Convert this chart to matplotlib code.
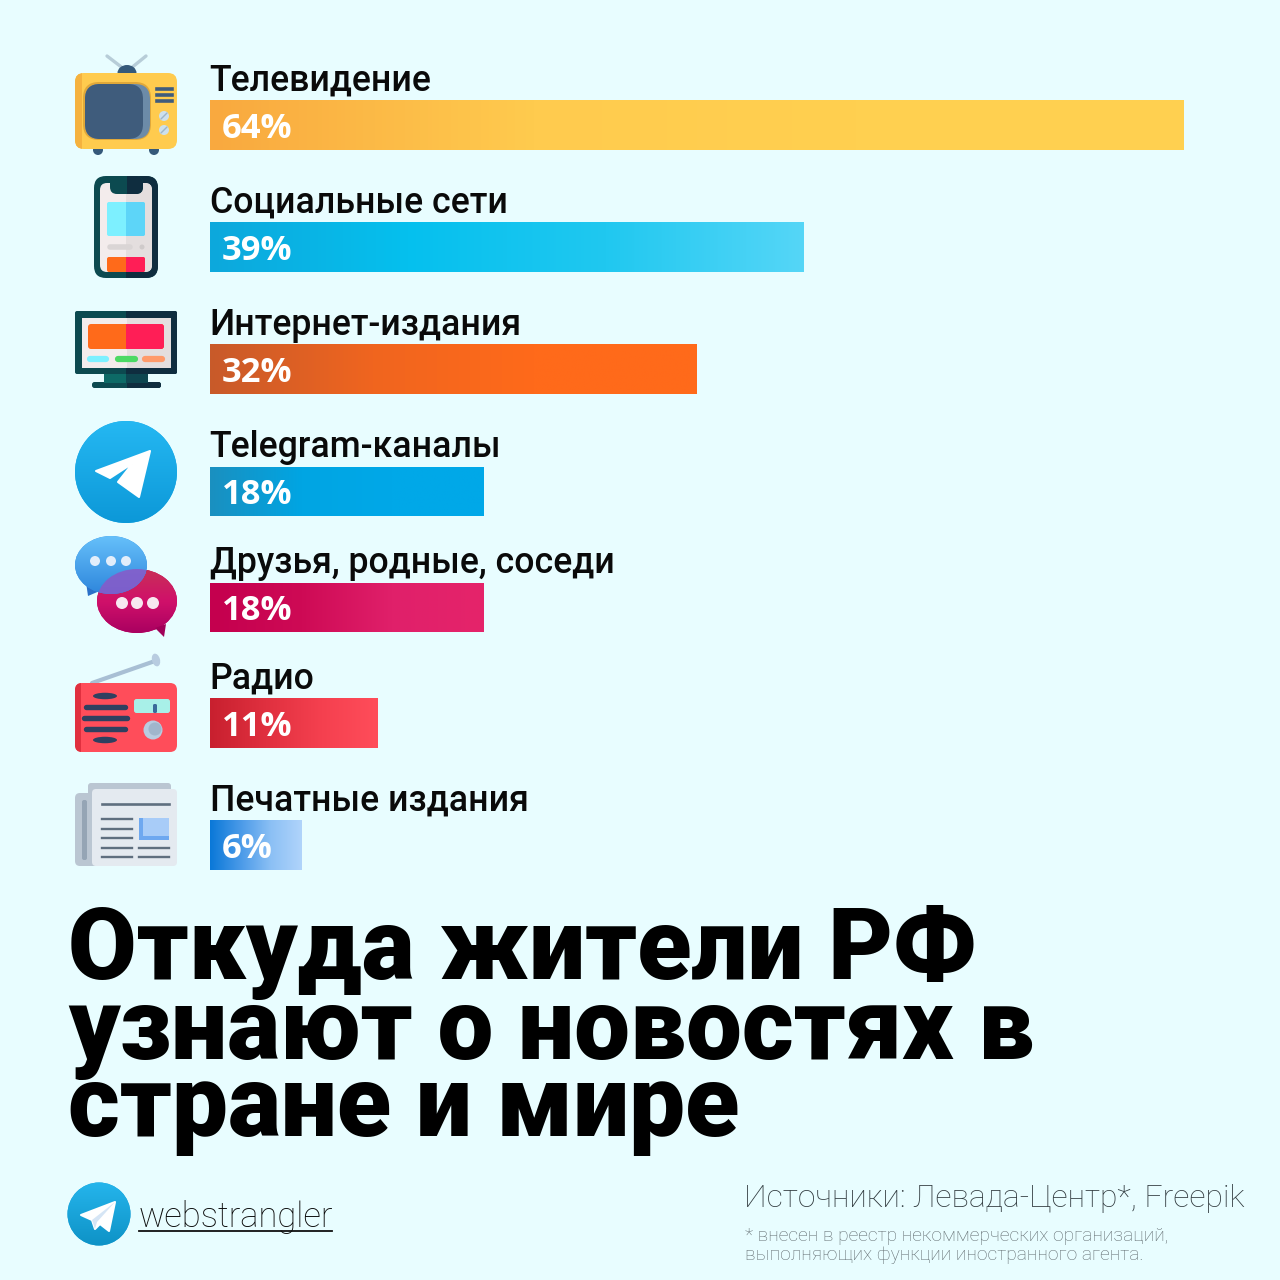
import numpy as np
import matplotlib
matplotlib.use("Agg")
import matplotlib.pyplot as plt
from matplotlib.colors import LinearSegmentedColormap
from matplotlib.patches import Circle, Ellipse, FancyBboxPatch, Polygon, Rectangle

categories = ["Телевидение", "Социальные сети", "Интернет-издания", "Telegram-каналы",
              "Друзья, родные, соседи", "Радио", "Печатные издания"]
values = [64, 39, 32, 18, 18, 11, 6]
title_lines = ["Откуда жители РФ", "узнают о новостях в", "стране и мире"]
source = "Источники: Левада-Центр*, Freepik"
note_lines = ["* внесен в реестр некоммерческих организаций,",
              "выполняющих функции иностранного агента."]
handle = "webstrangler"

# layout, in pixels of the 1280 px picture
row_centers = [125, 247, 369, 491.5, 607.5, 723, 845]
bar_height = 50
gradients = [["#F9A93F", "#FFCB4E", "#FFD050", "#FFD050"],
             ["#0DA8DC", "#05C0EE", "#20C8F0", "#55D6F7"],
             ["#C85A2A", "#F0651F", "#FF6A1A", "#FF6A1A"],
             ["#1A90C0", "#00A5E3", "#00A8E8", "#00A8E8"],
             ["#C4004E", "#CE0A55", "#E0206A", "#E5246A"],
             ["#C8202F", "#E0303F", "#F5404F", "#FF4D5A"],
             ["#0A78D8", "#4A9AE8", "#8CC0F5", "#B0D4FB"]]
BG = "#E8FDFF"
TEAL = "#0C4A50"
NAVY = "#0F2D3F"
SCREEN_L, SCREEN_R = "#F3ECEC", "#E4DEDE"
HOT_L, HOT_R = "#FF6A1A", "#FF1E56"

fig = plt.figure(figsize=(12.8, 12.8), dpi=100, facecolor=BG)
art = fig.add_axes([0, 0, 1, 1])
art.set_xlim(0, 1280)
art.set_ylim(1280, 0)
art.axis("off")


def ramp(ax, colors, extent, clip, vertical=False):
    cmap = LinearSegmentedColormap.from_list("g", colors)
    g = np.linspace(0, 1, 256)
    g = g.reshape(-1, 1) if vertical else g.reshape(1, -1)
    im = ax.imshow(g, cmap=cmap, extent=extent, aspect="auto", origin="upper", zorder=clip.get_zorder(),
                   interpolation="bilinear")
    im.set_clip_path(clip)
    return im


def box(x0, y0, x1, y1, color, r=0, z=2, clip=None):
    if r:
        p = FancyBboxPatch((x0 + r, y0 + r), x1 - x0 - 2 * r, y1 - y0 - 2 * r,
                           boxstyle=f"round,pad={r},rounding_size={r}", fc=color, ec="none", zorder=z)
    else:
        p = Rectangle((x0, y0), x1 - x0, y1 - y0, fc=color, ec="none", zorder=z)
    art.add_patch(p)
    if clip is not None:
        p.set_clip_path(clip)
    return p


def split_box(x0, y0, x1, y1, cl, cr, r=0, z=2):
    box(x0, y0, x1, y1, cl, r, z)
    half = Rectangle(((x0 + x1) / 2, y0), (x1 - x0) / 2, y1 - y0, transform=art.transData)
    box(x0, y0, x1, y1, cr, r, z + 0.1, clip=half)


def stroke(xs, ys, color, lw, z=4):
    art.plot(xs, ys, color=color, lw=lw, solid_capstyle="round", zorder=z)


def draw_tv():
    stroke([124, 107], [69, 56], "#B7CDD8", 2.4, 1)
    stroke([130, 146], [69, 56], "#B7CDD8", 2.4, 1)
    art.add_patch(Ellipse((127, 73), 19, 16, fc="#35597A", ec="none", zorder=1.5))
    for x in (98, 154):
        art.add_patch(Circle((x, 150), 5, fc="#35597A", ec="none", zorder=1.5))
    body = box(75, 73, 177, 149, "#FFCB4E", 9)
    box(75, 73, 82, 149, "#F5B23F", 0, 2.1, clip=body)
    box(83, 82, 151, 140, "#E0A83A", 16, 3)
    box(85, 84, 150, 139, "#6C8BA8", 15, 3.1)
    box(85, 84, 143, 139, "#3F5C7C", 15, 3.2)
    for y in (89, 95, 101):
        art.plot([157, 172], [y, y], color="#3F5C7C", lw=2.6, zorder=4)
    for y in (116, 130):
        art.add_patch(Circle((164, y), 5, fc="#CDE0EC", ec="none", zorder=4))
        stroke([161, 167], [y + 3, y - 3], "#9DB5C8", 1, 5)


def draw_phone():
    split_box(94, 176, 158, 278, TEAL, NAVY, 12)
    split_box(100, 183, 152, 272, SCREEN_L, SCREEN_R, 7, 3)
    split_box(110, 176, 143, 194, TEAL, NAVY, 7, 4)
    split_box(107, 202, 145, 236, "#7DF0FF", "#5DD5F8", 2, 5)
    art.plot([110, 130], [247, 247], color="#DAD5D5", lw=4, solid_capstyle="round", zorder=5)
    art.add_patch(Circle((142, 247), 2.5, fc="#CFCACA", ec="none", zorder=5))
    split_box(107, 257, 145, 272, HOT_L, HOT_R, 2, 5)


def draw_monitor():
    split_box(92, 382, 161, 388, TEAL, NAVY, 2.5, 2)
    split_box(104, 372, 148, 383, "#0D6A66", "#0E4650", 0, 2.5)
    split_box(75, 311, 177, 374, TEAL, NAVY, 2, 3)
    split_box(82, 318, 171, 368, SCREEN_L, SCREEN_R, 0, 3.5)
    split_box(88, 324, 164, 349, HOT_L, HOT_R, 3, 4)
    stroke([90, 106], [359, 359], "#7DF0FF", 4.5)
    stroke([118, 135], [359, 359], "#4CD964", 4.5)
    stroke([145, 162], [359, 359], "#FF9A6A", 4.5)


def draw_plane(pts, z=5):
    art.add_patch(Polygon(pts, closed=True, fc="white", ec="white", lw=1.5, joinstyle="round", zorder=z))


def draw_telegram():
    disc = Circle((126, 472), 51, fc="#15A5E5", ec="none", zorder=2)
    art.add_patch(disc)
    ramp(art, ["#25B8F2", "#0C98D8"], (75, 177, 523, 421), disc, vertical=True)
    draw_plane([(150, 451), (96, 471), (110, 478), (133, 463), (118, 482), (139, 497)])


def draw_chat():
    pink = Ellipse((137, 601), 80, 64, fc="#C8005A", ec="none", zorder=2)
    art.add_patch(pink)
    ramp(art, ["#C83058", "#D0106A", "#A80060"], (97, 177, 634, 569), pink, vertical=True)
    art.add_patch(Polygon([(155, 628), (166, 624), (164, 637)], fc="#A00058", ec="none", zorder=2))
    art.add_patch(Polygon([(86, 582), (102, 590), (88, 596)], fc="#2A70C8", ec="none", zorder=2.5))
    blue = Ellipse((111, 565), 72, 58, fc="#3A90E0", ec="none", zorder=3)
    art.add_patch(blue)
    ramp(art, ["#66C0FA", "#2E86DC"], (75, 147, 594, 536), blue, vertical=True)
    overlap = Ellipse((137, 601), 80, 64, fc="#8A58C8", ec="none", alpha=0.85, zorder=3.2)
    art.add_patch(overlap)
    overlap.set_clip_path(Ellipse((111, 565), 72, 58, transform=art.transData))
    for x in (95, 111, 126):
        art.add_patch(Circle((x, 561), 5, fc="#E2EEFB", ec="none", zorder=4))
    for x in (122, 137, 153):
        art.add_patch(Circle((x, 603), 6, fc="#F7E8F0", ec="none", zorder=4))


def draw_radio():
    stroke([92, 155], [683, 661], "#A8BFD4", 3, 1)
    art.add_patch(Ellipse((156, 660), 8, 13, angle=-15, fc="#B8CCE0", ec="none", zorder=1.5))
    body = box(75, 683, 177, 752, "#FF4D5A", 7)
    box(75, 683, 81, 752, "#E0303F", 0, 2.1, clip=body)
    for y, half in zip((707, 718, 729), (19.5, 21.5, 19.5)):
        stroke([105 - half, 105 + half], [y, y], "#2F4060", 3.9)
    for y in (696, 740):
        art.add_patch(Ellipse((105, y), 24, 6.5, fc="#2F4060", ec="none", zorder=4))
    box(134, 699, 170, 713, "#A8F0E8", 2.5, 3)
    box(153, 704, 157, 713, "#3A6A9A", 1.5, 4)
    art.add_patch(Circle((153, 730), 9.5, fc="#B8CCE0", ec="none", zorder=3))
    art.add_patch(Circle((155, 729), 6.5, fc="#A0B6CC", ec="none", zorder=3.1))


def draw_news():
    box(88, 783, 171, 810, "#BAC6D2", 3, 1)
    box(75, 793, 100, 866, "#BAC6D2", 5, 1.5)
    box(82, 800, 87, 860, "#95A5B5", 2, 1.6)
    box(92, 789, 177, 866, "#E4EAF0", 4, 2)
    art.plot([102, 169], [804, 804], color="#5F6F7F", lw=1.9, zorder=3)
    for y in (819, 829, 838, 848, 857):
        art.plot([102, 132], [y, y], color="#5F6F7F", lw=1.7, zorder=3)
    for y in (848, 857):
        art.plot([139, 169], [y, y], color="#5F6F7F", lw=1.7, zorder=3)
    box(139, 818, 169, 840, "#6EA8F0", 0, 3)
    box(143, 818, 169, 836, "#A8CCF8", 0, 3.1)


draw_tv()
draw_phone()
draw_monitor()
draw_telegram()
draw_chat()
draw_radio()
draw_news()

# bars on their own axes, so the value scale sets their lengths
bar_ax = fig.add_axes([210 / 1280, 0, 974 / 1280, 1])
bar_ax.set_xlim(0, max(values))
bar_ax.set_ylim(1280, 0)
bar_ax.axis("off")
bar_ax.patch.set_alpha(0)
bars = bar_ax.barh(row_centers, values, height=bar_height, color="none")
for rect, v, y, colors in zip(bars, values, row_centers, gradients):
    ramp(bar_ax, colors, (0, v, y + bar_height / 2, y - bar_height / 2), rect)
    bar_ax.annotate(f"{v}%", (0, y + 13), xytext=(8.6, 0), textcoords="offset points", color="white",
                    fontsize=24.8, family="Open Sans", weight="bold", va="baseline", ha="left", zorder=6)
bar_ax.set_xlim(0, max(values))
bar_ax.set_ylim(1280, 0)

for name, y in zip(categories, row_centers):
    art.text(209.5, int(y) - 34, name, fontsize=25.7, family="Roboto", weight="medium", color="#0A0A0A",
             va="baseline")

for line, y in zip(title_lines, (978.5, 1059.5, 1136.5)):
    art.text(68, y, line, fontsize=71.7, family="Roboto", weight="black", color="black", va="baseline")

# footer
small = Circle((99, 1214), 31.5, fc="#15A0D8", ec="none", zorder=2)
art.add_patch(small)
ramp(art, ["#25B5EC", "#0E92C6"], (67, 131, 1246, 1182), small, vertical=True)
draw_plane([(115, 1202), (81, 1215), (92, 1220), (95, 1229), (100, 1224), (109, 1231)])
art.add_patch(Polygon([(115, 1202), (92, 1220), (95, 1229), (97, 1222)], fc="#D5E5F5", ec="none", zorder=6))

art.text(139, 1227, handle, fontsize=24.9, family="Roboto", weight="light", color="#0A0A0A", va="baseline")
art.plot([139, 332], [1231, 1231], color="#111111", lw=1.3)
art.text(744, 1207, source, fontsize=22.97, family="Roboto", weight="light", color="#333D41", va="baseline")
for line, y in zip(note_lines, (1241, 1260)):
    art.text(745, y, line, fontsize=13.75, family="Roboto", weight="light", color="#5F6A6E", va="baseline")

art.set_xlim(0, 1280)
art.set_ylim(1280, 0)
fig.savefig("out.png", dpi=100, facecolor=BG)
